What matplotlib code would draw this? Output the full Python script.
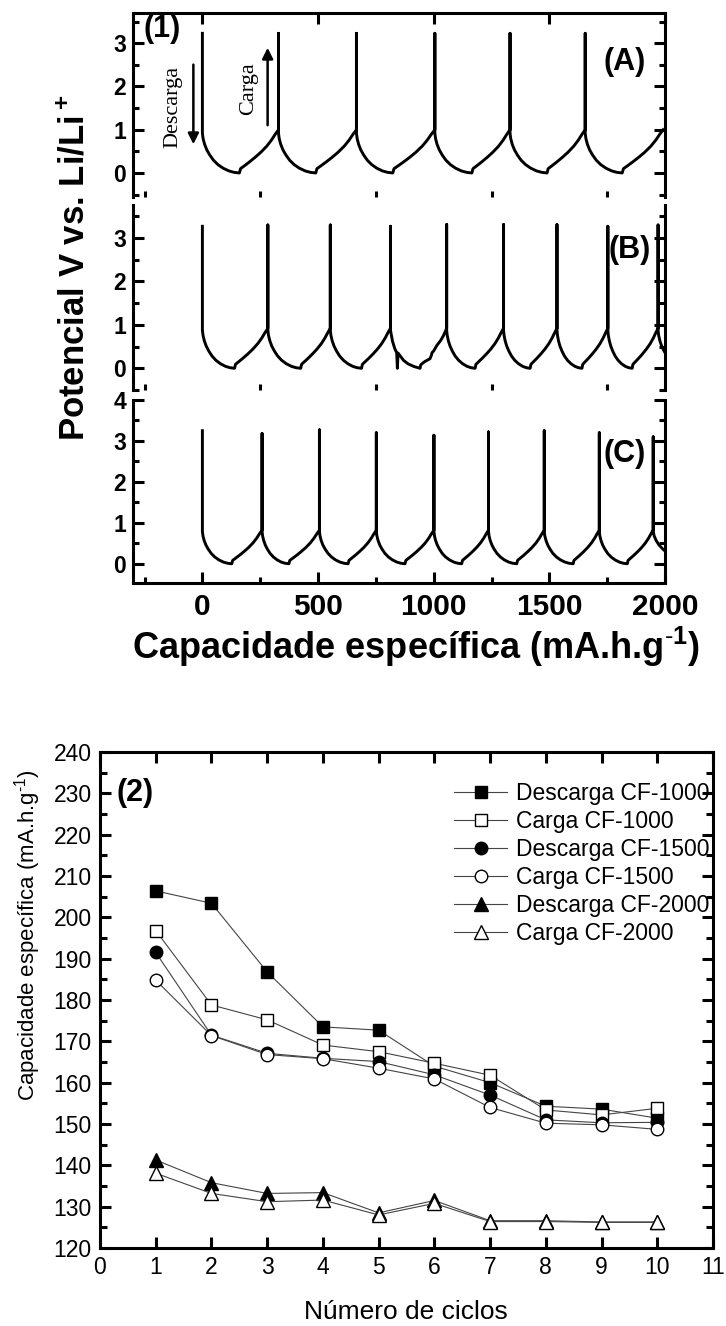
import matplotlib
matplotlib.use("Agg")
import matplotlib.pyplot as plt
from matplotlib.ticker import MultipleLocator

plt.rcParams['font.family'] = ['Liberation Sans', 'DejaVu Sans']
plt.rcParams['mathtext.fontset'] = 'custom'
plt.rcParams['mathtext.rm'] = 'Liberation Sans'
plt.rcParams['mathtext.bf'] = 'Liberation Sans:bold'

# ---------------- panel (1): galvanostatic curves ----------------
# capacity where each cycle starts (vertical jump) and where the potential bottoms out
spikes_A = [0, 329, 666, 1005, 1330, 1655, 1992]
minima_A = [160, 490, 823, 1165, 1490, 1815]
tops_A = [3.23, 3.23, 3.23, 3.23, 3.23, 3.23]

spikes_B = [0, 283, 553, 813, 1056, 1302, 1533, 1753, 1970]
minima_B = [139, 425, 688, 941, 1179, 1417, 1641, 1858, 2100]
tops_B = [3.27, 3.3, 3.3, 3.27, 3.31, 3.31, 3.31, 3.27, 3.3]

spikes_C = [0, 258, 506, 752, 1001, 1237, 1478, 1716, 1949]
minima_C = [127, 374, 630, 876, 1121, 1359, 1603, 1837, 2160]
tops_C = [3.25, 3.18, 3.27, 3.2, 3.14, 3.22, 3.25, 3.2, 3.1]

# potential right after the jump (discharge start) / right before it (charge end)
vstart = {'A': 0.92, 'B': 0.88, 'C': 0.79}
vend = {'A': 1.0, 'B': 0.92, 'C': 0.82}

# shape of one discharge / charge branch (fraction of branch, fraction of potential)
dis_pos = [0, 0.02, 0.06, 0.12, 0.2, 0.3, 0.42, 0.56, 0.72, 0.86, 1.0]
dis_v = [1.0, 0.86, 0.72, 0.58, 0.45, 0.32, 0.21, 0.12, 0.05, 0.015, 0.0]
chg_pos = [0, 0.03, 0.12, 0.25, 0.4, 0.55, 0.7, 0.82, 0.92, 1.0]
chg_v = [0.0, 0.1, 0.16, 0.25, 0.36, 0.48, 0.62, 0.76, 0.9, 1.0]

# noisy 4th cycle of curve (B)
b4_x = [813, 822, 832, 840, 843, 846, 856, 870, 890, 915, 941, 944, 960, 984, 990, 993, 1000, 1013, 1030, 1042, 1050, 1056]
b4_v = [0.88, 0.62, 0.45, 0.36, 0.0, 0.35, 0.28, 0.18, 0.1, 0.04, 0.0, 0.08, 0.15, 0.22, 0.3, 0.36, 0.4, 0.52, 0.64, 0.75, 0.85, 0.92]

# ---------------- panel (2): capacity vs cycle number ----------------
ciclos = [1, 2, 3, 4, 5, 6, 7, 8, 9, 10]
desc_1000 = [206.4, 203.4, 186.8, 173.5, 172.7, 164.0, 160.0, 154.3, 153.6, 151.4]
carga_1000 = [196.8, 178.8, 175.2, 169.1, 167.5, 164.7, 161.8, 153.4, 152.2, 153.8]
desc_1500 = [191.5, 171.5, 167.1, 165.9, 165.1, 161.9, 157.0, 151.0, 150.3, 150.4]
carga_1500 = [184.8, 171.4, 166.8, 165.8, 163.5, 160.9, 154.0, 150.2, 149.8, 148.7]
desc_2000 = [141.3, 135.8, 133.2, 133.4, 128.5, 131.5, 126.6, 126.6, 126.3, 126.3]
carga_2000 = [138.1, 133.2, 131.2, 131.6, 128.0, 130.8, 126.4, 126.4, 126.2, 126.2]


def build_curve(spikes, minima, tops, v0, v1, override=None):
    xs, vs = [], []
    for i in range(len(minima)):
        x0 = spikes[i]
        if i > 0:
            xs.append(x0); vs.append(v1)
        xs += [x0, x0]; vs += [tops[i], v0]
        if override and i in override:
            ox, ov = override[i]
            xs += ox; vs += ov
            continue
        xm = minima[i]
        for p, f in zip(dis_pos, dis_v):
            xs.append(x0 + p * (xm - x0)); vs.append(f * v0)
        if i + 1 < len(spikes):
            x1 = spikes[i + 1]
            for p, f in zip(chg_pos, chg_v):
                xs.append(xm + p * (x1 - xm)); vs.append(f * v1)
    return xs, vs


W, H = 726, 1326
fig = plt.figure(figsize=(W / 100, H / 100), dpi=100)

def frame(top, bottom, left=133, right=665):
    return fig.add_axes([left / W, 1 - bottom / H, (right - left) / W, (bottom - top) / H])

axA = frame(13, 197)
axB = frame(205, 390)
axC = frame(400, 583)

curves = [
    (axA, build_curve(spikes_A, minima_A, tops_A, vstart['A'], vend['A'])),
    (axB, build_curve(spikes_B, minima_B, tops_B, vstart['B'], vend['B'], {3: (b4_x, b4_v)})),
    (axC, build_curve(spikes_C, minima_C, tops_C, vstart['C'], vend['C'])),
]
for ax, (xs, vs) in curves:
    ax.plot(xs, vs, color='black', lw=2.1, solid_joinstyle='round')
    ax.set_xlim(-300, 2000)
    ax.xaxis.set_major_locator(MultipleLocator(500))
    ax.xaxis.set_minor_locator(MultipleLocator(250))
    ax.yaxis.set_major_locator(MultipleLocator(1))
    ax.yaxis.set_minor_locator(MultipleLocator(0.5))
    for s in ax.spines.values():
        s.set_linewidth(2.2)
    ax.tick_params(which='both', direction='in', left=True, right=True, width=2.2)
    ax.tick_params(which='major', length=8)
    ax.tick_params(which='minor', length=4.5)
    ax.tick_params(axis='y', labelsize=16.5, pad=5)

axA.set_ylim(-0.556, 3.70)
axB.set_ylim(-0.50, 3.76)
axC.set_ylim(-0.47, 4.0)

axA.spines['bottom'].set_visible(False)
axA.tick_params(axis='x', top=True, bottom=False, labelbottom=False)
axB.spines['bottom'].set_visible(False)
axB.spines['top'].set_visible(False)
axB.tick_params(axis='x', top=False, bottom=False, labelbottom=False)
axC.spines['top'].set_visible(False)
axC.tick_params(axis='x', top=False, bottom=True, labelsize=21.5, pad=7)
for ax in (axA, axB, axC):
    for t in ax.get_yticklabels() + ax.get_xticklabels():
        t.set_fontweight('bold')

axA.text(-255, 3.33, '(1)', fontsize=22, fontweight='bold', ha='left', va='center')
axA.text(1825, 2.57, '(A)', fontsize=22, fontweight='bold', ha='center', va='center')
axB.text(1847, 2.73, '(B)', fontsize=22, fontweight='bold', ha='center', va='center')
axC.text(1825, 2.68, '(C)', fontsize=22, fontweight='bold', ha='center', va='center')

axA.text(-126, 1.53, 'Descarga', rotation=90, family='Liberation Serif', fontsize=16,
         ha='center', va='center')
axA.annotate('', xy=(-39, 0.6), xytext=(-39, 2.57),
             arrowprops=dict(arrowstyle='-|>', lw=1.8, color='black', mutation_scale=16))
axA.text(199, 1.94, 'Carga', rotation=90, family='Liberation Serif', fontsize=16,
         ha='center', va='center')
axA.annotate('', xy=(282, 2.96), xytext=(282, 1.04),
             arrowprops=dict(arrowstyle='-|>', lw=1.8, color='black', mutation_scale=16))

fig.text(74 / W, 1 - 268 / H, r'Potencial V vs. Li/Li$\mathbf{^+}$', rotation=90,
         fontsize=25, fontweight='bold', ha='center', va='center')
fig.text(416 / W, 1 - 647 / H, r'Capacidade específica (mA.h.g$\mathbf{^{\text{-}1}}$)',
         fontsize=26, fontweight='bold', ha='center', va='center')

# ---------------- panel (2) ----------------
ax2 = frame(752, 1248, left=100, right=713)
series = [
    (desc_1000, 's', 'black', 'Descarga CF-1000'),
    (carga_1000, 's', 'white', 'Carga CF-1000'),
    (desc_1500, 'o', 'black', 'Descarga CF-1500'),
    (carga_1500, 'o', 'white', 'Carga CF-1500'),
    (desc_2000, '^', 'black', 'Descarga CF-2000'),
    (carga_2000, '^', 'white', 'Carga CF-2000'),
]
for vals, mk, fc, lab in series:
    ax2.plot(ciclos, vals, marker=mk, ms=10 if mk == '^' else 9, mfc=fc, mec='black', mew=1.0,
             color='#444444', lw=0.8, label=lab)

ax2.set_xlim(0, 11)
ax2.set_ylim(120, 240)
ax2.xaxis.set_major_locator(MultipleLocator(1))
ax2.yaxis.set_major_locator(MultipleLocator(10))
ax2.yaxis.set_minor_locator(MultipleLocator(5))
for s in ax2.spines.values():
    s.set_linewidth(2.2)
ax2.tick_params(which='both', direction='in', top=True, right=True, width=2.2, labelsize=16.5)
ax2.tick_params(which='major', length=8, pad=6)
ax2.tick_params(which='minor', length=5)
ax2.text(0.3, 230, '(2)', fontsize=22, fontweight='bold', ha='left', va='center')

ax2.legend(loc='upper left', bbox_to_anchor=(0.578, 0.94), frameon=False, fontsize=16.5,
           handlelength=2.3, handletextpad=0.4, labelspacing=0.22, borderaxespad=0,
           borderpad=0)

fig.text(28 / W, 1 - 935 / H, r'Capacidade específica (mA.h.g$^{\text{-}1}$)', rotation=90,
         fontsize=16, ha='center', va='center')
fig.text(406 / W, 1 - 1312 / H, 'Número de ciclos', fontsize=19, ha='center', va='center')

fig.savefig('out.png', dpi=100)
